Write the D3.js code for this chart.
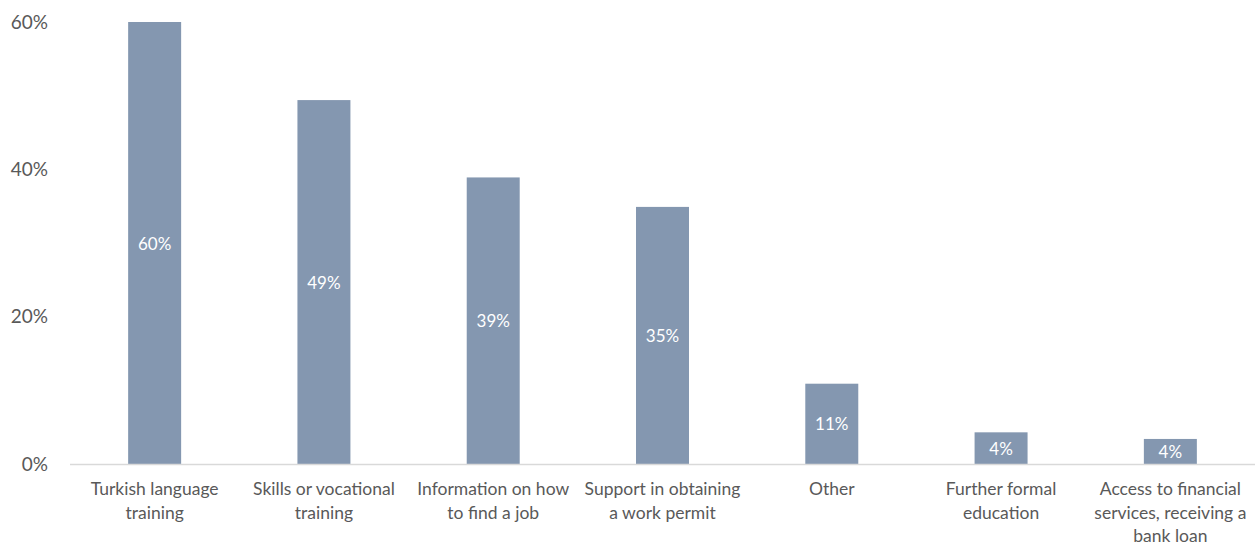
<!DOCTYPE html>
<html>
<head>
<meta charset="utf-8">
<script src="https://cdn.jsdelivr.net/npm/d3@7"></script>
<style>
  html, body { margin: 0; padding: 0; background: #fff; }
  svg { display: block; }
  text { font-family: Lato, "Open Sans", sans-serif; }
</style>
</head>
<body>
<svg id="chart" width="1260" height="546"></svg>
<script>
const categories = [
  "Turkish language|training",
  "Skills or vocational|training",
  "Information on how|to find a job",
  "Support in obtaining|a work permit",
  "Other",
  "Further formal|education",
  "Access to financial|services, receiving a|bank loan"
];
const values = [60, 49.4, 38.9, 34.9, 10.9, 4.3, 3.4];
const valueLabels = ["60%", "49%", "39%", "35%", "11%", "4%", "4%"];
const yTicks = [0, 20, 40, 60];
const yTickLabels = ["0%", "20%", "40%", "60%"];

const svg = d3.select("#chart");
const margin = { left: 70, right: 5, top: 22, bottom: 82 };
const W = 1260, H = 546;

const x = d3.scaleBand()
  .domain(categories)
  .range([margin.left, W - margin.right])
  .paddingInner(0.687)
  .paddingOuter(0.3435);

const y = d3.scaleLinear()
  .domain([0, 60])
  .range([H - margin.bottom, margin.top]);

// y axis labels
const yAxis = d3.axisLeft(y)
  .tickValues(yTicks)
  .tickFormat((d, i) => yTickLabels[i])
  .tickSize(0)
  .tickPadding(0);
const gy = svg.append("g")
  .attr("transform", `translate(48,0)`)
  .call(yAxis);
gy.select(".domain").remove();
gy.selectAll("text")
  .attr("fill", "#595959")
  .style("font-size", "19px")
  .style("font-family", "Lato, 'Open Sans', sans-serif");

// bars
svg.append("g").selectAll("rect")
  .data(values)
  .join("rect")
  .attr("x", (d, i) => x(categories[i]))
  .attr("width", x.bandwidth())
  .attr("y", d => y(d))
  .attr("height", d => y(0) - y(d))
  .attr("fill", "#8497b0");

// baseline
svg.append("line")
  .attr("x1", margin.left)
  .attr("x2", W - margin.right)
  .attr("y1", y(0) + 0.5)
  .attr("y2", y(0) + 0.5)
  .attr("stroke", "#d9d9d9")
  .attr("stroke-width", 1.5);

// value labels
svg.append("g").selectAll("text")
  .data(values)
  .join("text")
  .attr("x", (d, i) => x(categories[i]) + x.bandwidth() / 2)
  .attr("y", d => (y(d) + y(0)) / 2)
  .attr("text-anchor", "middle")
  .attr("dominant-baseline", "central")
  .attr("fill", "#ffffff")
  .style("font-size", "17px")
  .text((d, i) => valueLabels[i]);

// x axis category labels
const xAxis = d3.axisBottom(x).tickSize(0).tickFormat("");
const gx = svg.append("g")
  .attr("transform", `translate(0,${y(0)})`)
  .call(xAxis);
gx.select(".domain").remove();
gx.selectAll(".tick").each(function(d) {
  const t = d3.select(this).append("text")
    .attr("text-anchor", "middle")
    .attr("fill", "#595959")
    .style("font-size", "17.5px")
    .style("font-family", "Lato, 'Open Sans', sans-serif");
  d.split("|").forEach((line, i) => {
    t.append("tspan")
      .attr("x", 0)
      .attr("y", 31 + i * 23.5)
      .text(line);
  });
});
</script>
</body>
</html>
